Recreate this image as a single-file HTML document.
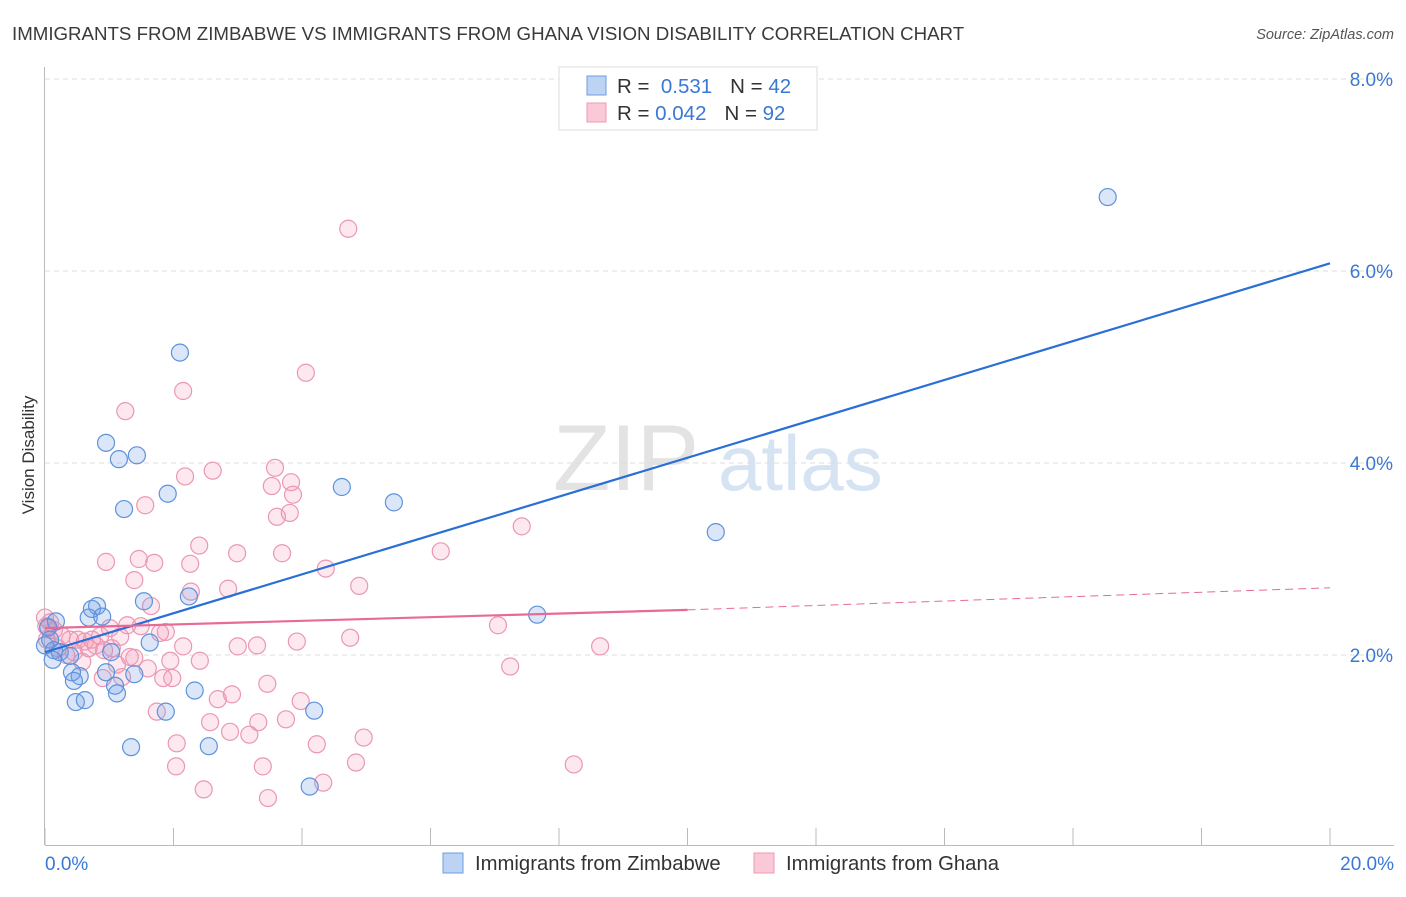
<!DOCTYPE html>
<html><head><meta charset="utf-8"><style>
body{margin:0;background:#fff;font-family:"Liberation Sans",sans-serif;}
svg text{font-family:"Liberation Sans",sans-serif;}
</style></head><body>
<svg id="chart" width="1406" height="892">
<text x="12" y="40" font-size="18.7" fill="#3a3a3a">IMMIGRANTS FROM ZIMBABWE VS IMMIGRANTS FROM GHANA VISION DISABILITY CORRELATION CHART</text>
<text x="1394" y="39" font-size="14.5" fill="#555" text-anchor="end" font-style="italic">Source: ZipAtlas.com</text>
<text x="34" y="455" font-size="17" fill="#333" text-anchor="middle" transform="rotate(-90 34 455)">Vision Disability</text>
<g><text x="553" y="490" font-size="94" fill="#e3e3e3" font-family="Liberation Serif,serif">ZIP</text><text x="718" y="490" font-size="78" fill="#d5e3f3">atlas</text></g>
<g id="grid"></g><g id="axes"></g><g id="marks"></g>
<g>
<rect x="559" y="67" width="258" height="63" fill="#fff" stroke="#ddd"/>
<rect x="587" y="76" width="19" height="19" fill="#bcd3f4" stroke="#6e9ee0"/>
<rect x="587" y="103" width="19" height="19" fill="#f9c9d8" stroke="#ee9ab5"/>
<text x="617" y="93" font-size="20.5" fill="#333">R = <tspan fill="#3a78d6">&#160;0.531</tspan><tspan dx="18" fill="#333">N = </tspan><tspan fill="#3a78d6">42</tspan></text>
<text x="617" y="120" font-size="20.5" fill="#333">R = <tspan fill="#3a78d6">0.042</tspan><tspan dx="18" fill="#333">N = </tspan><tspan fill="#3a78d6">92</tspan></text>
</g>
<g>
<rect x="443" y="853" width="20" height="20" fill="#bcd3f4" stroke="#6e9ee0"/>
<text x="475" y="870" font-size="20.3" fill="#333">Immigrants from Zimbabwe</text>
<rect x="754" y="853" width="20" height="20" fill="#f9c9d8" stroke="#ee9ab5"/>
<text x="786" y="870" font-size="20.3" fill="#333">Immigrants from Ghana</text>
</g>
</svg>
<script>
const xTicks=[0,2,4,6,8,10,12,14,16,18,20];
const yTicks=[2,4,6,8];
const yTickLabels=["2.0%","4.0%","6.0%","8.0%"];
const zimX=[2.10,0.95,1.15,1.43,1.91,1.23,4.62,5.43,10.44,16.54,7.66,2.24,1.54,0.81,0.73,0.68,0.89,1.63,0.17,0.05,0.08,0.14,0.23,0.12,0.39,0.54,0.42,0.45,1.03,0.95,1.39,1.09,1.12,0.48,0.62,2.33,1.88,4.19,1.34,2.55,4.12,0];
const zimY=[5.15,4.21,4.04,4.08,3.68,3.52,3.75,3.59,3.28,6.77,2.42,2.61,2.56,2.51,2.48,2.39,2.40,2.13,2.35,2.29,2.16,2.05,2.03,1.95,1.99,1.78,1.82,1.73,2.03,1.82,1.80,1.68,1.60,1.51,1.53,1.63,1.41,1.42,1.04,1.05,0.63,2.10];
const ghX=[4.72,4.06,2.15,1.25,2.61,2.18,3.58,3.53,3.83,3.86,3.61,3.81,1.56,2.40,2.99,3.69,0.95,1.46,1.70,2.26,1.39,2.85,2.27,4.37,4.89,6.16,7.42,1.65,7.05,8.64,4.75,3.92,3.30,3.00,2.15,1.88,1.79,1.28,1.17,1.49,1.01,0.86,0.73,0.62,0.51,0.39,0.26,0.14,0.05,0.08,0.03,0.20,0.33,0.45,0.58,0.68,0.79,0.92,1.04,1.32,1.12,1.39,1.60,1.95,2.41,1.20,0.90,1.84,1.98,3.46,2.91,2.69,3.98,7.24,1.74,2.57,3.75,2.88,3.32,3.18,4.96,2.05,4.23,2.04,3.39,4.84,8.23,2.47,3.47,4.33,0,0.02];
const ghY=[6.44,4.94,4.75,4.54,3.92,3.86,3.95,3.76,3.80,3.67,3.44,3.48,3.56,3.14,3.06,3.06,2.97,3.00,2.96,2.95,2.78,2.69,2.66,2.90,2.72,3.08,3.34,2.51,2.31,2.09,2.18,2.14,2.10,2.09,2.09,2.24,2.23,2.31,2.19,2.30,2.28,2.20,2.16,2.14,2.16,2.16,2.20,2.26,2.28,2.34,2.16,2.07,2.00,2.03,1.93,2.07,2.10,2.05,2.07,1.98,1.90,1.97,1.86,1.94,1.94,1.77,1.76,1.76,1.76,1.70,1.59,1.54,1.52,1.88,1.41,1.30,1.33,1.20,1.30,1.17,1.14,1.08,1.07,0.84,0.84,0.88,0.86,0.60,0.51,0.67,2.39,2.30];
const zimTrend=[2.03,6.08];
const ghTrend=[2.28,2.47,2.70];
const NS="http://www.w3.org/2000/svg";
const X=v=>45+v/20*1285, Y=v=>847-v*96;
function mk(p,t,a){const e=document.createElementNS(NS,t);for(const k in a)e.setAttribute(k,a[k]);p.appendChild(e);return e;}
const grid=document.getElementById('grid'),axes=document.getElementById('axes'),marks=document.getElementById('marks');
yTicks.forEach((t,i)=>{
const l=mk(grid,'line',{x1:45,x2:1394,y1:Y(t),y2:Y(t),stroke:'#ddd','stroke-dasharray':'5,4'});


const tx=mk(axes,'text',{x:1393,y:Y(t)+7,'font-size':19,fill:'#3a78d6','text-anchor':'end'});tx.textContent=yTickLabels[i];


});
mk(axes,'line',{x1:44.5,x2:44.5,y1:67,y2:845,stroke:'#bbb'});
mk(axes,'line',{x1:45,x2:1394,y1:845.5,y2:845.5,stroke:'#bbb'});
xTicks.forEach(t=>{const l=mk(axes,'line',{x1:X(t),x2:X(t),y1:828,y2:845,stroke:'#bbb'});

});
let t0=mk(axes,'text',{x:45,y:870,'font-size':19,fill:'#3a78d6'});t0.textContent='0.0%';


let t1=mk(axes,'text',{x:1394,y:870,'font-size':19,fill:'#3a78d6','text-anchor':'end'});t1.textContent='20.0%';


ghX.forEach((x,i)=>{const c=mk(marks,'circle',{cx:X(x),cy:Y(ghY[i]),r:8.5,fill:'rgba(244,150,180,0.22)',stroke:'#eb97b2','stroke-width':1.2});

});
zimX.forEach((x,i)=>{const c=mk(marks,'circle',{cx:X(x),cy:Y(zimY[i]),r:8.5,fill:'rgba(110,160,230,0.25)',stroke:'#5e92dc','stroke-width':1.2});

});
const bl=mk(marks,'line',{x1:X(0),y1:Y(zimTrend[0]),x2:X(20),y2:Y(zimTrend[1]),stroke:'#2a6fd6','stroke-width':2.2});


const pl=mk(marks,'line',{x1:X(0),y1:Y(ghTrend[0]),x2:X(10),y2:Y(ghTrend[1]),stroke:'#e86a96','stroke-width':2.2});


const pd=mk(marks,'line',{x1:X(10),y1:Y(ghTrend[1]),x2:X(20),y2:Y(ghTrend[2]),stroke:'#e86a96','stroke-width':1,'stroke-dasharray':'8,5'});


</script>
</body></html>
